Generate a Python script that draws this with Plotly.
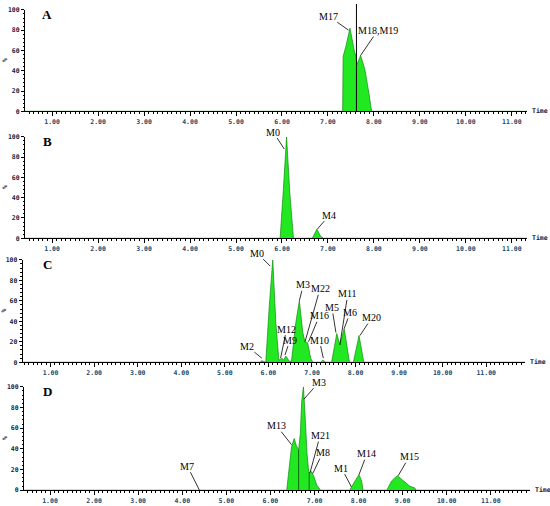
import plotly.graph_objects as go

# ---------- Chromatogram traces (retention time in min, relative intensity %) ----------
time_a = [0.41, 7.32, 7.33, 7.39, 7.48, 7.58, 7.61, 7.63, 7.71, 7.80, 7.89, 7.95, 11.33]
int_a = [0, 0, 54, 64, 82, 58, 55, 46, 55, 42, 18, 0, 0]

time_b = [0.41, 5.96, 6.03, 6.10, 6.17, 6.25, 6.66, 6.76, 6.84, 6.90, 11.33]
int_b = [0, 0, 48, 100, 45, 0, 0, 9, 2, 0, 0]

time_c = [0.36, 5.80, 5.85, 5.90, 5.94, 6.02, 6.10, 6.17, 6.24, 6.31, 6.35, 6.40, 6.48,
          6.53, 6.63, 6.71, 6.79, 6.84, 6.90, 6.97, 7.02, 7.20, 7.25, 7.32, 7.45, 7.57,
          7.64, 7.74, 7.86, 7.95, 8.08, 8.19, 11.89]
int_c = [0, 0, 1.5, 0.5, 0, 55, 100, 39, 2, 4, 2, 6, 1,
         1, 39, 60, 29, 20, 19, 4, 0, 0, 2, 0, 0, 28,
         17, 33, 0, 0, 26, 0, 0]

time_d = [0.41, 6.37, 6.43, 6.48, 6.54, 6.59, 6.64, 6.68, 6.71, 6.75, 6.79, 6.83, 6.87,
          6.93, 6.99, 7.05, 7.14, 7.80, 7.92, 8.01, 8.07, 8.10, 8.64, 8.75, 8.88, 9.01,
          9.16, 9.28, 9.30, 11.89]
int_d = [0, 0, 23, 42, 50, 43, 39, 55, 86, 100, 70, 36, 17,
         18, 13, 5, 0, 0, 9, 15, 9, 0, 0, 9, 14, 9,
         4, 2, 0, 0]

# ---------- Peak labels (label, time, intensity it points at) ----------
labels_a = ["M17", "M18,M19"]
peak_t_a = [7.45, 7.71]
peak_i_a = [80, 55]

labels_b = ["M0", "M4"]
peak_t_b = [6.05, 6.77]
peak_i_b = [88, 9]

labels_c = ["M0", "M2", "M12", "M9", "M3", "M22", "M16", "M10", "M5", "M11", "M6", "M20"]
peak_t_c = [6.04, 5.85, 6.28, 6.38, 6.71, 6.84, 6.92, 7.26, 7.55, 7.64, 7.74, 8.10]
peak_i_c = [94, 4, 4, 7, 60, 20, 20, 4, 29, 17, 33, 26]

labels_d = ["M7", "M13", "M3", "M21", "M8", "M1", "M14", "M15"]
peak_t_d = [4.39, 6.48, 6.76, 6.90, 6.96, 7.84, 8.01, 8.90]
peak_i_d = [0, 44, 88, 17, 16, 3, 15, 14]

# integration markers
split_t_a = 7.62
split_t_d = [6.64, 6.88]
split_i_d = [39, 17]

# ---------- Layout helpers (pixel positions in the 550x506 page) ----------
W, H = 550, 506
GREEN = "#22e822"
EDGE = "#118a11"
XTICK_COLOR = "#1b4a6b"
YTICK_COLOR = "#1a1a40"
TICK_FONT = "DejaVu Sans Mono"

# label offsets (px) from the point the leader touches
offs_a = [(-20, -14), (17, -25)]
offs_b = [(-11, -17), (12, -14)]
offs_c = [(-13, -13), (-15, -12), (6, -29), (5, -15), (4, -16), (15, -53),
          (11, -26), (-4, -18), (-4, -25), (8, -51), (6, -16), (12, -18)]
offs_d = [(-12, -24), (-15, -19), (15, -17), (10, -37), (10, -21), (-10, -19),
          (8, -21), (11, -19)]

# name, data, x pixels [left, right], x range, y pixels [top(100), bottom(0)]
panels = [
    ("A", time_a, int_a, labels_a, peak_t_a, peak_i_a, offs_a, (25, 527), (0.41, 11.33), (6, 109)),
    ("B", time_b, int_b, labels_b, peak_t_b, peak_i_b, offs_b, (25, 527), (0.41, 11.33), (135, 238)),
    ("C", time_c, int_c, labels_c, peak_t_c, peak_i_c, offs_c, (22.7, 525), (0.36, 11.89), (260, 364)),
    ("D", time_d, int_d, labels_d, peak_t_d, peak_i_d, offs_d, (24, 530), (0.41, 11.89), (389, 494)),
]

fig = go.Figure()
annotations = []
shapes = []

for i, (name, tx, iy, labs, pt, pi, offs, xpx, xr, ypx) in enumerate(panels, start=1):
    sfx = "" if i == 1 else str(i)
    xa, ya = "x" + sfx, "y" + sfx

    fig.add_trace(go.Scatter(
        x=tx, y=iy, xaxis=xa, yaxis=ya,
        mode="lines", fill="tozeroy", fillcolor=GREEN,
        line=dict(color=EDGE, width=0.7),
        hoverinfo="skip", showlegend=False,
    ))

    fig.update_layout(**{
        "xaxis" + sfx: dict(
            domain=[xpx[0] / W, xpx[1] / W], range=list(xr), anchor=ya,
            showline=True, linecolor="black", linewidth=1,
            showgrid=False, zeroline=False,
            tickmode="linear", tick0=1, dtick=1, tickformat=".2f",
            ticks="outside", ticklen=4, tickwidth=1, tickcolor="black",
            tickfont=dict(family=TICK_FONT, size=6.5, color=XTICK_COLOR, weight="bold"),
            minor=dict(tick0=0, dtick=0.1, ticks="outside", ticklen=2,
                       tickcolor="black", showgrid=False),
            fixedrange=True,
        ),
        "yaxis" + sfx: dict(
            domain=[1 - ypx[1] / H, 1 - ypx[0] / H], range=[0, 100], anchor=xa,
            showline=True, linecolor="black", linewidth=1,
            showgrid=False, zeroline=False,
            tickvals=[0, 20, 40, 60, 80, 100],
            ticks="outside", ticklen=3, tickwidth=1, tickcolor="black",
            tickfont=dict(family=TICK_FONT, size=6.5, color=YTICK_COLOR, weight="bold"),
            minor=dict(dtick=4, ticks="outside", ticklen=1.5, tickcolor="black", showgrid=False),
            fixedrange=True,
        ),
    })

    # panel letter
    annotations.append(dict(
        text=name, xref="paper", yref="paper", x=47 / W, y=1 - (ypx[0] + 5) / H,
        showarrow=False, xanchor="center", yanchor="middle",
        font=dict(family="Liberation Serif", size=13, color="black", weight="bold"),
    ))
    # y label and time label
    annotations.append(dict(
        text="%", xref="paper", yref=ya + " domain", x=4.5 / W, y=0.5,
        showarrow=False, textangle=-90, xanchor="center", yanchor="middle",
        font=dict(family=TICK_FONT, size=6.5, color=YTICK_COLOR, weight="bold"),
    ))
    annotations.append(dict(
        text="Time", xref=xa + " domain", yref=ya + " domain", x=1, y=0,
        xshift=3, showarrow=False, xanchor="left", yanchor="middle",
        font=dict(family=TICK_FONT, size=6.5, color=YTICK_COLOR, weight="bold"),
    ))

    # metabolite labels with leader lines
    for lab, t, v, (dx, dy) in zip(labs, pt, pi, offs):
        annotations.append(dict(
            text=lab, xref=xa, yref=ya, x=t, y=v,
            ax=dx, ay=dy, axref="pixel", ayref="pixel",
            showarrow=True, arrowhead=0, arrowwidth=0.8, arrowcolor="black",
            standoff=0, borderpad=0,
            font=dict(family="Liberation Serif", size=10, color="black"),
        ))

# vertical split line in A (runs above the frame)
shapes.append(dict(type="line", xref="x", yref="paper", x0=split_t_a, x1=split_t_a,
                   y0=1 - 109 / H, y1=1.0, line=dict(color="black", width=1)))
# integration drop lines in D
for t, v in zip(split_t_d, split_i_d):
    shapes.append(dict(type="line", xref="x4", yref="y4", x0=t, x1=t, y0=0, y1=v,
                       line=dict(color="#0b4d0b", width=0.8)))

fig.update_layout(
    width=W, height=H,
    margin=dict(l=0, r=0, t=0, b=0),
    paper_bgcolor="white", plot_bgcolor="white",
    showlegend=False,
    annotations=annotations,
    shapes=shapes,
)

# drop the default page margin so the figure sits at the window corner
fig.write_html("out.html", config={"displayModeBar": False},
               post_script="document.body.style.margin='0px';")
